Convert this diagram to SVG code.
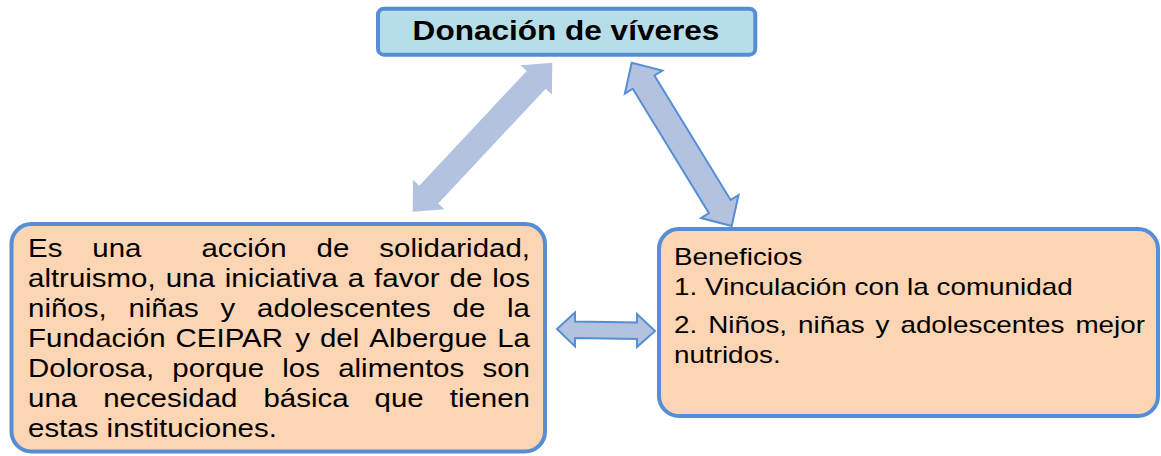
<svg xmlns="http://www.w3.org/2000/svg" width="1161" height="456" viewBox="0 0 1161 456">
<style>
.box{stroke:#558ED5;stroke-width:4}
.title{fill:#B7DEE8}
.peach{fill:#FCD5B5}
.txt{font-family:"Liberation Sans",Arial,sans-serif;fill:#000}
.body{font-size:25.4px}
.rbody{font-size:24px}
.arrow{fill:#B3C3DF}
.arrow-ol{fill:#B3C3DF;stroke:#558ED5;stroke-width:2;stroke-linejoin:miter}
</style>
<rect width="1161" height="456" fill="#fff"/>
<g id="connectors">
<polygon class="arrow" points="412.7,211.7 444.46,209.25 438.26,203.44 545.72,88.74 551.92,94.55 552.3,62.7 520.54,65.15 526.74,70.96 419.28,185.66 413.08,179.85"/>
<polygon class="arrow-ol" points="631.7,62.7 662.37,70.65 654.44,75.51 730.62,199.93 738.55,195.07 731.7,226 701.03,218.05 708.96,213.19 632.78,88.77 624.85,93.63"/>
<polygon class="arrow-ol" points="557,329 575,312.5 575,321.5 637,322.5 637,314 655,331 637,347 637,339 575,338 575,346.5"/>
</g>
<g id="node-title">
<rect class="box title" x="378" y="8.7" width="377.3" height="46" rx="6"/>
<g transform="scale(1.16,1)"><text class="txt" x="487.9" y="40" text-anchor="middle" font-size="27.2" font-weight="bold">Donación de víveres</text></g>
</g>
<g id="node-desc">
<rect class="box peach" x="11.5" y="224" width="533.5" height="227.5" rx="20"/>
<g transform="scale(1.16,1)" class="txt body">
<text y="257.5"><tspan x="24.14">Es</tspan><tspan x="79.62">una</tspan><tspan x="173.68">acción</tspan><tspan x="272.93">de</tspan><tspan x="327.02">solidaridad,</tspan></text>
<text y="287.5"><tspan x="24.14">altruismo,</tspan><tspan x="142.83">una</tspan><tspan x="193.80">iniciativa</tspan><tspan x="299.78">a</tspan><tspan x="322.51">favor</tspan><tspan x="387.58">de</tspan><tspan x="424.42">los</tspan></text>
<text y="317.5"><tspan x="24.14">niños,</tspan><tspan x="110.69">niñas</tspan><tspan x="190.18">y</tspan><tspan x="221.66">adolescentes</tspan><tspan x="390.10">de</tspan><tspan x="437.13">la</tspan></text>
<text y="347.5"><tspan x="24.14">Fundación</tspan><tspan x="151.35">CEIPAR</tspan><tspan x="254.54">y</tspan><tspan x="275.86">del</tspan><tspan x="318.37">Albergue</tspan><tspan x="428.65">La</tspan></text>
<text y="377.5"><tspan x="24.14">Dolorosa,</tspan><tspan x="148.55">porque</tspan><tspan x="243.34">los</tspan><tspan x="291.53">alimentos</tspan><tspan x="415.94">son</tspan></text>
<text y="407.5"><tspan x="24.14">una</tspan><tspan x="88.92">necesidad</tspan><tspan x="227.11">básica</tspan><tspan x="322.93">que</tspan><tspan x="387.72">tienen</tspan></text>
<text y="437.5" x="24.14">estas instituciones.</text>
</g>
</g>
<g id="node-benef">
<rect class="box peach" x="659" y="229" width="499" height="187" rx="20"/>
<g transform="scale(1.16,1)" class="txt rbody">
<text x="581.03" y="265">Beneficios</text>
<text x="581.03" y="295">1. Vinculación con la comunidad</text>
<text y="333"><tspan x="581.03">2.</tspan><tspan x="610.5">Niños,</tspan><tspan x="687.97">niñas</tspan><tspan x="754.78">y</tspan><tspan x="776.22">adolescentes</tspan><tspan x="927.08">mejor</tspan></text>
<text x="581.03" y="363">nutridos.</text>
</g>
</g>
</svg>
